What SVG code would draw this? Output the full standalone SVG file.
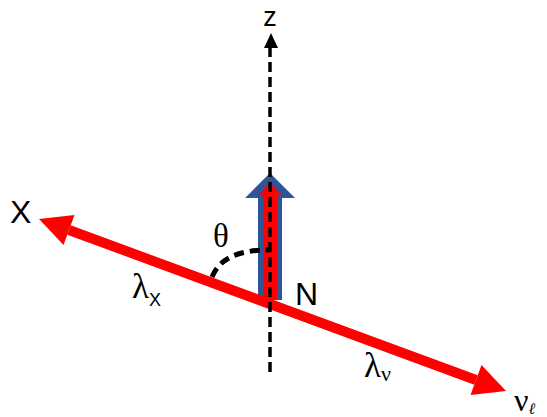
<svg xmlns="http://www.w3.org/2000/svg" width="547" height="417" viewBox="0 0 547 417">
<style>
.sans{font-family:"Liberation Sans",Arial,sans-serif;fill:#000}
.serif{font-family:"Liberation Serif","Times New Roman",serif;fill:#000}
.red{fill:#ff0000}
</style>
<rect width="547" height="417" fill="#fff"/>
<g id="connectors">
  <g id="spin-arrow">
    <polygon fill="#2f5597" points="258,300 258,198 245,198 270,173 295,198 282,198 282,300"/>
    <polygon class="red" points="263,300 263,195 259,195 270,182 281,195 277,195 277,300"/>
  </g>
  <g id="red-axis">
    <line x1="69" y1="230" x2="476" y2="380" stroke="#ff0000" stroke-width="10"/>
    <polygon class="red" points="39,219 74.5,215 63.5,245"/>
    <polygon class="red" points="506,391 481.5,365 470.5,395"/>
  </g>
  <g id="z-axis">
    <line x1="270" y1="372" x2="270" y2="46" stroke="#000" stroke-width="3.5" stroke-dasharray="10,5"/>
    <polygon fill="#000" points="271,33 278,48 264,48"/>
  </g>
  <path id="theta-arc" d="M212,277 C220,258 238,250 270,250" fill="none" stroke="#000" stroke-width="5" stroke-dasharray="10,6"/>
</g>
<g id="labels">
  <text id="label-z" class="sans" x="270" y="26" font-size="27" text-anchor="middle">z</text>
  <text id="label-X" class="sans" x="10" y="223" font-size="32">X</text>
  <text id="label-N" class="sans" x="295" y="305" font-size="32">N</text>
  <text id="label-theta" class="serif" x="213" y="247" font-size="33">θ</text>
  <text id="label-lx" class="serif" x="132" y="298" font-size="35">λ<tspan class="sans" font-size="18" dy="8">X</tspan></text>
  <text id="label-lv" class="serif" x="364" y="377" font-size="35">λ<tspan font-size="22" dy="4">ν</tspan></text>
  <text id="label-nu" class="serif" x="514" y="411" font-size="32">ν<tspan font-size="16" font-style="italic" dy="3">ℓ</tspan></text>
</g>
</svg>
